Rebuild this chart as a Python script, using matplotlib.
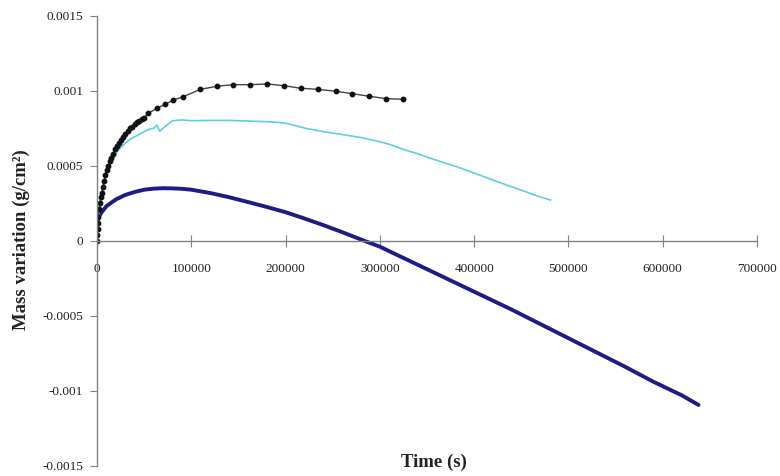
import matplotlib
matplotlib.use("Agg")
import matplotlib.pyplot as plt

# black series (dots)
t_black = [0, 300, 600, 1000, 1500, 2200, 3000, 4000, 5000, 6200, 7500, 9000, 10500,
           12000, 13500, 15000, 17000, 19000, 21000, 23000, 25000, 27500, 30000, 32500,
           35000, 37500, 40000, 42500, 45000, 47500, 50000,
           54500, 64000, 72500, 81000, 91500, 109500, 127600, 144600, 162600, 180600,
           198600, 216600, 234600, 253700, 270700, 288700, 306800, 324800]
m_black = [0.0, 0.00004, 0.00008, 0.00012, 0.00016, 0.00021, 0.00025, 0.00029, 0.00032,
           0.00036, 0.00040, 0.00044, 0.00047, 0.00050, 0.00053, 0.00055, 0.00058,
           0.00061, 0.00063, 0.00065, 0.00067, 0.00069, 0.00071, 0.00073, 0.00075,
           0.00076, 0.00078, 0.00079, 0.00080, 0.00081, 0.00082,
           0.00085, 0.000885, 0.00091, 0.000938, 0.00096, 0.001009, 0.00103, 0.00104,
           0.00104, 0.001045, 0.001033, 0.001016, 0.001009, 0.000996, 0.00098,
           0.000963, 0.000947, 0.000943]

# cyan series
t_cyan = [0, 2000, 5000, 10000, 15000, 20000, 25000, 30000, 36000, 42000, 48000, 54000,
          60000, 63500, 66500, 72000, 80000, 90000, 100000, 120000, 141000, 160000,
          177000, 190000, 200000, 210000, 222000, 245000, 265000, 283000, 300000,
          313000, 325000, 340000, 353000, 370000, 383000, 396000, 410000, 424000,
          438000, 452000, 466000, 481000]
m_cyan = [0.00005, 0.00018, 0.0003, 0.00045, 0.00052, 0.00058, 0.00062, 0.00065,
          0.00068, 0.0007, 0.00072, 0.00074, 0.00075, 0.00077, 0.00073, 0.00076, 0.0008,
          0.000805, 0.0008, 0.000802, 0.000802, 0.000798, 0.000794, 0.00079, 0.000783,
          0.000768, 0.000748, 0.000722, 0.000703, 0.000684, 0.00066, 0.000637, 0.000608,
          0.00058, 0.000551, 0.000516, 0.00049, 0.00046, 0.000428, 0.000395, 0.000363,
          0.000333, 0.0003, 0.000271]

# navy series
t_blue = [0, 2000, 5000, 10000, 20000, 30000, 40000, 50000, 60000, 70000, 80000, 90000,
          100000, 120000, 140000, 160000, 180000, 200000, 220000, 240000, 260000,
          280000, 300000, 320000, 350000, 380000, 410000, 440000, 470000, 500000,
          530000, 560000, 590000, 620000, 638000]
m_blue = [0.00011, 0.00016, 0.00019, 0.00023, 0.000275, 0.000305, 0.000325, 0.00034,
          0.000347, 0.00035, 0.000349, 0.000346, 0.00034, 0.000318, 0.00029, 0.000258,
          0.000225, 0.00019, 0.000148, 0.000104, 0.000057, 0.000008, -0.00004, -0.0001,
          -0.00019, -0.00028, -0.00037, -0.00046, -0.000555, -0.00065, -0.000745,
          -0.00084, -0.00094, -0.00103, -0.001095]

x_ticks = [0, 100000, 200000, 300000, 400000, 500000, 600000, 700000]
y_ticks = [-0.0015, -0.001, -0.0005, 0, 0.0005, 0.001, 0.0015]
y_labels = ["-0.0015", "-0.001", "-0.0005", "0", "0.0005", "0.001", "0.0015"]

plt.rcParams['font.family'] = ['Liberation Serif', 'DejaVu Serif']

fig = plt.figure(figsize=(7.8, 4.76), dpi=100)
ax = fig.add_axes([97 / 780, 10.3 / 476, 660 / 780, 450 / 476])

ax.plot(t_blue, m_blue, color='#1c1c82', linewidth=2.8, solid_capstyle='round')
ax.plot(t_cyan, m_cyan, color='#5ccfe2', linewidth=1.2)
ax.plot(t_black, m_black, color='#444444', linewidth=1.0, marker='o',
        markersize=3.2, markerfacecolor='#111111', markeredgecolor='#111111')

ax.set_xlim(0, 700000)
ax.set_ylim(-0.0015, 0.0015)
ax.set_xticks(x_ticks)
ax.set_xticklabels([str(v) for v in x_ticks])
ax.set_yticks(y_ticks)
ax.set_yticklabels(y_labels)

ax.spines['top'].set_visible(False)
ax.spines['right'].set_visible(False)
ax.spines['bottom'].set_position(('data', 0))
for s in ['left', 'bottom']:
    ax.spines[s].set_color('#808080')
    ax.spines[s].set_linewidth(1.0)

ax.tick_params(axis='x', direction='inout', length=8, color='#808080', pad=12,
               labelsize=9.5, labelcolor='#222222')
ax.tick_params(axis='y', direction='out', length=5, color='#808080', pad=5,
               labelsize=9.5, labelcolor='#222222')

fig.text(434 / 780, 1 - 462 / 476, 'Time (s)', ha='center', va='center',
         fontsize=13.5, fontweight='bold', color='#222222')
fig.text(21 / 780, 1 - 240 / 476, 'Mass variation (g/cm²)', ha='center', va='center',
         rotation=90, fontsize=13.5, fontweight='bold', color='#222222')

fig.savefig('out.png', dpi=100)
